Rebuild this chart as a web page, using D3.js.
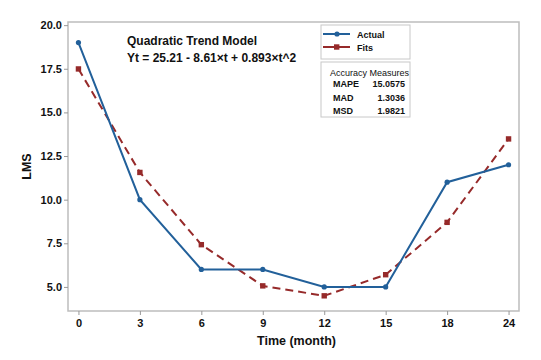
<!DOCTYPE html>
<html>
<head>
<meta charset="utf-8">
<script src="https://cdn.jsdelivr.net/npm/d3@7"></script>
<style>
  body { margin: 0; background: #fff; }
  svg text { font-family: "Liberation Sans", Arial, sans-serif; font-weight: bold; fill: #111; }
</style>
</head>
<body>
<div id="chart"></div>
<script>
// data
var months = ["0", "3", "6", "9", "12", "15", "18", "24"];
var actual = [19, 10, 6, 6, 5, 5, 11, 12];
var fits = [17.49, 11.56, 7.42, 5.06, 4.49, 5.70, 8.70, 13.48];
var yTicks = [5.0, 7.5, 10.0, 12.5, 15.0, 17.5, 20.0];
var accNames = ["MAPE", "MAD", "MSD"];
var accValues = ["15.0575", "1.3036", "1.9821"];

var W = 541, H = 360;
var margin = { top: 22, right: 22, bottom: 49, left: 68 },
    width = W - margin.left - margin.right,
    height = H - margin.top - margin.bottom;

var svg = d3.select("#chart").append("svg").attr("width", W).attr("height", H);
var g = svg.append("g").attr("transform", "translate(" + margin.left + "," + margin.top + ")");

var x = d3.scalePoint().domain(months).range([0, width]).padding(0.17);
var y = d3.scaleLinear().domain([3.62, 20.18]).range([height, 0]);

var blue = "#22609a", red = "#962a2a";

// frame
g.append("rect").attr("width", width).attr("height", height)
    .attr("fill", "none").attr("stroke", "#bdbdbd").attr("stroke-width", 1.5);

// axes
var yAxis = g.append("g").call(d3.axisLeft(y).tickValues(yTicks).tickFormat(d3.format(".1f")).tickSize(4).tickPadding(2));
var xAxis = g.append("g").attr("transform", "translate(0," + height + ")")
    .call(d3.axisBottom(x).tickSize(4).tickPadding(4));
[yAxis, xAxis].forEach(function(a) {
    a.select(".domain").remove();
    a.selectAll("line").attr("stroke", "#999");
    a.selectAll("text").style("font-size", "11px").attr("fill", "#111");
});

// axis titles
svg.append("text").attr("transform", "translate(31," + (margin.top + height / 2) + ") rotate(-90)")
    .attr("text-anchor", "middle").style("font-size", "12.5px").text("LMS");
svg.append("text").attr("x", margin.left + width / 2 + 3).attr("y", 345)
    .attr("text-anchor", "middle").style("font-size", "12.5px").text("Time (month)");

// series
var line = d3.line().x(function(d, i) { return x(months[i]); }).y(function(d) { return y(d); });
g.append("path").datum(fits).attr("d", line).attr("fill", "none")
    .attr("stroke", red).attr("stroke-width", 2).attr("stroke-dasharray", "8,5");
g.append("path").datum(actual).attr("d", line).attr("fill", "none")
    .attr("stroke", blue).attr("stroke-width", 2);
g.selectAll(".fit").data(fits).enter().append("rect")
    .attr("x", function(d, i) { return x(months[i]) - 2.7; })
    .attr("y", function(d) { return y(d) - 2.7; })
    .attr("width", 5.4).attr("height", 5.4).attr("fill", red);
g.selectAll(".act").data(actual).enter().append("circle")
    .attr("cx", function(d, i) { return x(months[i]); })
    .attr("cy", function(d) { return y(d); })
    .attr("r", 2.6).attr("fill", blue);

// title and equation
svg.append("text").attr("x", 127).attr("y", 45).style("font-size", "12px").text("Quadratic Trend Model");
svg.append("text").attr("x", 127).attr("y", 62).style("font-size", "12px").text("Yt = 25.21 - 8.61\u00d7t + 0.893\u00d7t^2");

// legend
var leg = svg.append("g");
leg.append("rect").attr("x", 321).attr("y", 25).attr("width", 89).attr("height", 34)
    .attr("fill", "#fff").attr("stroke", "#c8c8c8");
[["Actual", blue, 34], ["Fits", red, 47]].forEach(function(s, i) {
    leg.append("line").attr("x1", 323).attr("x2", 350).attr("y1", s[2]).attr("y2", s[2])
        .attr("stroke", s[1]).attr("stroke-width", 2);
    if (i == 0) leg.append("circle").attr("cx", 337).attr("cy", s[2]).attr("r", 2.6).attr("fill", s[1]);
    else leg.append("rect").attr("x", 334).attr("y", s[2] - 2.7).attr("width", 5.4).attr("height", 5.4).attr("fill", s[1]);
    leg.append("text").attr("x", 357).attr("y", s[2] + 3.5).style("font-size", "9px").text(s[0]);
});

// accuracy box
var acc = svg.append("g");
acc.append("rect").attr("x", 321).attr("y", 62).attr("width", 89).attr("height", 55)
    .attr("fill", "#fff").attr("stroke", "#c8c8c8");
acc.append("text").attr("x", 330).attr("y", 76).style("font-size", "9px").style("font-weight", "normal").text("Accuracy Measures");
accNames.forEach(function(n, i) {
    acc.append("text").attr("x", 333).attr("y", 87 + i * 13.5).style("font-size", "9px").text(n);
    acc.append("text").attr("x", 405).attr("y", 87 + i * 13.5).attr("text-anchor", "end")
        .style("font-size", "9px").text(accValues[i]);
});
</script>
</body>
</html>
